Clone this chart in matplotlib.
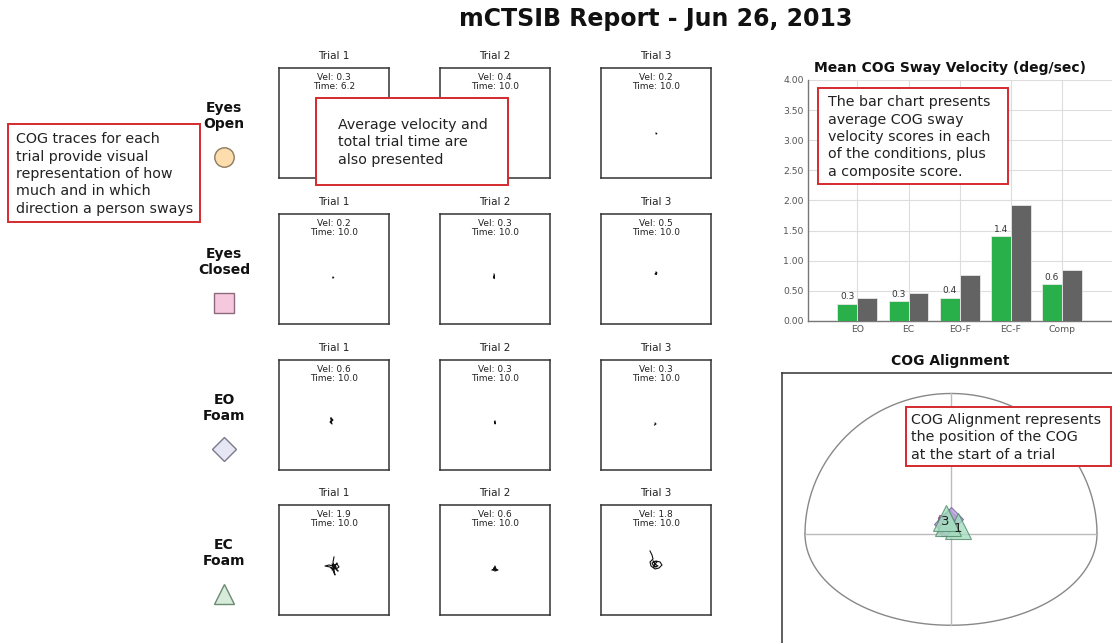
import numpy as np
import matplotlib
matplotlib.use('Agg')
import matplotlib.pyplot as plt
from matplotlib.patches import Rectangle

W, H = 1112, 643

report_title = 'mCTSIB Report - Jun 26, 2013'

conditions = ['Eyes\nOpen', 'Eyes\nClosed', 'EO\nFoam', 'EC\nFoam']
cond_markers = ['o', 's', 'D', '^']
cond_face = ['#fddcae', '#f6c8de', '#e6e6f5', '#d6ebda']
cond_edge = ['#8c7b5e', '#8c6a7c', '#7a7a8a', '#6b8a70']

# velocity (deg/sec) and duration (sec) per trial, rows = conditions
trial_vel = [[0.3, 0.4, 0.2],
             [0.2, 0.3, 0.5],
             [0.6, 0.3, 0.3],
             [1.9, 0.6, 1.8]]
trial_time = [[6.2, 10.0, 10.0],
              [10.0, 10.0, 10.0],
              [10.0, 10.0, 10.0],
              [10.0, 10.0, 10.0]]

# COG traces, offsets from plate centre (x, y)
traces = [
    [[(0, -8), (1, -9), (0, -10), (-1, -8)],
     [(0, -8), (1, -7), (0, -9)],
     [(0, -10), (0.8, -10.5), (0.2, -11)]],
    [[(-1, -8), (-0.3, -8.6), (-1.2, -9)],
     [(-1, -5), (-0.5, -7), (-1.5, -8), (-0.8, -9.5), (-1, -7)],
     [(0, -3), (1, -4), (-1, -5), (0.5, -5.5), (0, -4), (-0.5, -4.5)]],
    [[(-3, -3), (-2, -6), (-4, -7), (-2, -9), (-3, -6), (-1, -5), (-3, -3), (-2.5, -8)],
     [(0, -6), (0.5, -8), (0, -9), (-0.5, -7)],
     [(-1, -8), (0, -9), (-1.5, -10)]],
    [[(0, 3), (-1, -2), (0, -6), (-1, -10), (0, -13), (1, -15), (0, -10),
      (-4, -7), (-9, -6), (-5, -5), (-1, -6), (3, -4), (5, -7), (2, -9),
      (4, -11), (1, -8), (-2, -10), (0, -7), (3, -3), (1, -6), (-2, -4),
      (2, -8), (0, -9), (-3, -8), (1, -5), (2, -7)],
     [(-3, -10), (-1, -9), (0, -6), (1, -9), (3, -10), (0, -11), (-2, -10), (0, -9),
      (-1, -8), (1, -10)],
     [(-6, 9), (-4, 5), (-3, 1), (-6, -2), (-5, -6), (-1, -9), (3, -8), (6, -5),
      (4, -2), (0, -1), (-4, -3), (-2, -7), (2, -6), (-1, -4), (-3, -1), (1, -2),
      (-2, -5), (0, -7)]],
]

# mean sway velocity bars
categories = ['EO', 'EC', 'EO-F', 'EC-F', 'Comp']
patient_vel = [0.29, 0.33, 0.39, 1.41, 0.61]
norm_vel = [0.38, 0.46, 0.76, 1.92, 0.85]

# COG alignment at trial start (deg), per condition and trial
align_x = [[-0.2, -0.1, -0.3],
           [-0.3, -0.2, -0.1],
           [-0.1, 0.0, -0.3],
           [0.4, -0.15, -0.3]]
align_y = [[0.6, 0.7, 0.5],
           [0.5, 0.6, 0.35],
           [0.7, 0.8, 0.55],
           [0.45, 0.6, 0.85]]
align_face = ['#f7d3a8', '#d88fc8', '#b9a6dd', '#a6dcc0']
align_edge = ['#a07a50', '#8a4f88', '#6f5f99', '#4f8a6a']
lat_limit, ant_limit, post_limit = 8.0, 7.7, 5.0


def px_axes(x0, y0, x1, y1, **kw):
    return fig.add_axes([x0 / W, 1 - y1 / H, (x1 - x0) / W, (y1 - y0) / H], **kw)


fig = plt.figure(figsize=(W / 100, H / 100), dpi=100)
fig.patch.set_facecolor('white')

# overlay in pixel units for titles, labels and callouts
ov = fig.add_axes([0, 0, 1, 1], zorder=10)
ov.set_xlim(0, W)
ov.set_ylim(H, 0)
ov.axis('off')
ov.patch.set_alpha(0)

ov.text(656, 19, report_title, ha='center', va='center', fontsize=17,
        fontweight='bold', color='#111')

# trial plates
col_x = [279, 440, 601]
row_y = [68, 214, 360, 505]
box = 110
for r in range(4):
    for c in range(3):
        x0, y0 = col_x[c], row_y[r]
        ax = px_axes(x0, y0, x0 + box, y0 + box)
        ax.set_xlim(-box / 2, box / 2)
        ax.set_ylim(-box / 2, box / 2)
        ax.set_xticks([])
        ax.set_yticks([])
        for s in ax.spines.values():
            s.set_color('#333')
            s.set_linewidth(1.1)
        tx, ty = zip(*traces[r][c])
        ax.plot(tx, ty, color='#111', lw=0.8)
        ax.text(0, 50, 'Vel: %.1f\nTime: %.1f' % (trial_vel[r][c], trial_time[r][c]),
                ha='center', va='top', fontsize=6.5, color='#222', linespacing=0.95)
        ov.text(x0 + box / 2, y0 - 12, 'Trial %d' % (c + 1), ha='center',
                va='center', fontsize=7.5, color='#222')

    # condition label and symbol
    ov.text(224, row_y[r] + 48, conditions[r], ha='center', va='center',
            fontsize=10, fontweight='bold', color='#111', linespacing=1.1)
    ov.plot(224, row_y[r] + 89, marker=cond_markers[r], ms=14 if r != 2 else 12,
            mfc=cond_face[r], mec=cond_edge[r], mew=1.0, ls='none')

# bar chart
bx = px_axes(808, 80, 1112, 321)
xs = np.arange(len(categories))
bw = 0.39
bx.bar(xs - bw / 2, patient_vel, bw, color='#29b04b', edgecolor='#e8e8e8', lw=0.6, zorder=3)
bx.bar(xs + bw / 2, norm_vel, bw, color='#636363', edgecolor='#e8e8e8', lw=0.6, zorder=3)
for i, v in enumerate(patient_vel):
    bx.text(xs[i] - bw / 2, v + 0.04, '%.1f' % v, ha='center', va='bottom',
            fontsize=6.5, color='#333', zorder=4)
bx.set_xlim(-0.967, 4.98)
bx.set_ylim(0, 4)
bx.set_yticks(np.arange(0, 4.01, 0.5))
bx.set_yticklabels(['%.2f' % t for t in np.arange(0, 4.01, 0.5)])
bx.set_xticks(xs)
bx.set_xticklabels(categories)
bx.tick_params(length=0, labelsize=6.7, labelcolor='#555', pad=3)
bx.grid(True, color='#dddddd', lw=0.8, zorder=0)
bx.set_axisbelow(True)
for s in ['top', 'right']:
    bx.spines[s].set_visible(False)
for s in ['left', 'bottom']:
    bx.spines[s].set_color('#777')
    bx.spines[s].set_linewidth(1.0)
ov.text(950, 68, 'Mean COG Sway Velocity (deg/sec)', ha='center', va='center',
        fontsize=10, fontweight='bold', color='#111')

# COG alignment
scale = 18.25
cx, cy = 951, 534
ax_al = px_axes(782, 373, 1112, 643)
ax_al.set_xlim((782 - cx) / scale, (1112 - cx) / scale)
ax_al.set_ylim((cy - 643) / scale, (cy - 373) / scale)
ax_al.set_xticks([])
ax_al.set_yticks([])
for s in ['right', 'bottom']:
    ax_al.spines[s].set_visible(False)
for s in ['left', 'top']:
    ax_al.spines[s].set_color('#333')
    ax_al.spines[s].set_linewidth(1.1)
t = np.linspace(0, np.pi, 200)
ax_al.plot(lat_limit * np.cos(t), ant_limit * np.sin(t), color='#888', lw=1.0)
ax_al.plot(lat_limit * np.cos(t), -post_limit * np.sin(t), color='#888', lw=1.0)
ax_al.plot([-lat_limit, lat_limit], [0, 0], color='#bbb', lw=1.0)
ax_al.plot([0, 0], [-post_limit, ant_limit], color='#bbb', lw=1.0)
for r in range(4):
    for c in range(3):
        ax_al.plot(align_x[r][c], align_y[r][c], marker=cond_markers[r],
                   ms=19 if r == 3 else 12, mfc=align_face[r], mec=align_edge[r],
                   mew=0.8, alpha=0.8, ls='none', zorder=3 + r)
for c in [0, 2]:
    ax_al.text(align_x[3][c], align_y[3][c] - 0.15, str(c + 1), ha='center',
               va='center', fontsize=9.5, color='#222', zorder=8)
ov.text(950, 361, 'COG Alignment', ha='center', va='center', fontsize=10,
        fontweight='bold', color='#111')

# callouts
callouts = [
    (8, 124, 200, 222, 16, 'COG traces for each\ntrial provide visual\nrepresentation of how\nmuch and in which\ndirection a person sways'),
    (316, 98, 508, 185, 338, 'Average velocity and\ntotal trial time are\nalso presented'),
    (818, 88, 1008, 184, 828, 'The bar chart presents\naverage COG sway\nvelocity scores in each\nof the conditions, plus\na composite score.'),
    (906, 407, 1111, 466, 911, 'COG Alignment represents\nthe position of the COG\nat the start of a trial'),
]
for x0, y0, x1, y1, tx, txt in callouts:
    ov.add_patch(Rectangle((x0, y0), x1 - x0, y1 - y0, facecolor='white',
                           edgecolor='#d42a2f', lw=1.4, zorder=11))
    ov.text(tx, (y0 + y1) / 2 + 1, txt, ha='left', va='center', fontsize=10.3,
            color='#222', linespacing=1.3, zorder=12)

plt.savefig('out.png', dpi=100)
